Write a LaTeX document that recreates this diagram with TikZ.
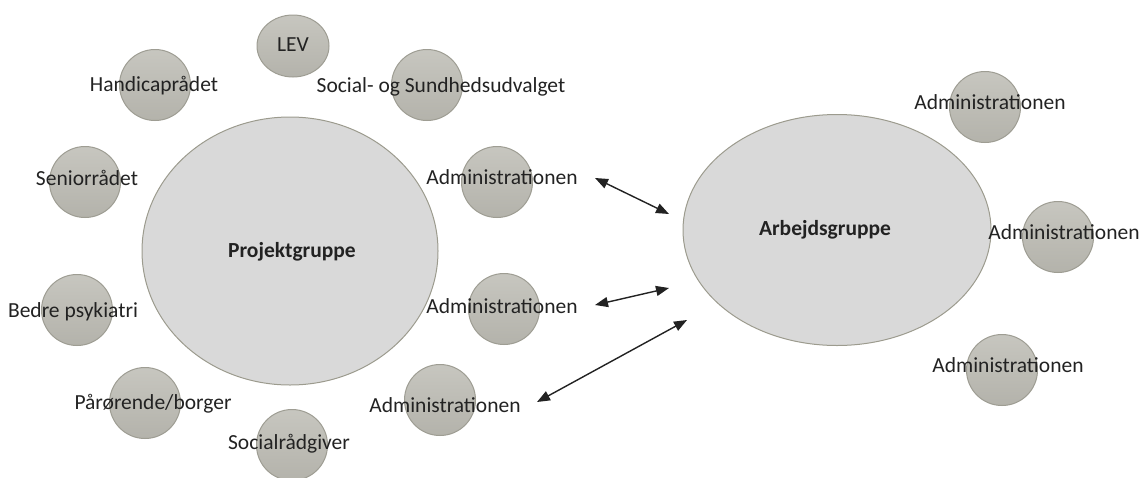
\documentclass[tikz,border=0pt]{standalone}
\usepackage{fontspec}
\setmainfont{Carlito}
\usepackage{xcolor}
\usetikzlibrary{shapes.geometric, arrows.meta}

\definecolor{lillefyld}{HTML}{BDBCB4}
\definecolor{lillekant}{HTML}{9E9D93}
\definecolor{storfyld}{HTML}{D9D9D9}
\definecolor{storkant}{HTML}{9C9B8E}
\definecolor{skrift}{HTML}{222222}

\begin{document}
\begin{tikzpicture}[x=1pt, y=-1pt,
  stor/.style={ellipse, draw=storkant, fill=storfyld, line width=1pt},
  lille/.style={circle, draw=lillekant, line width=1pt, minimum size=71pt,
    top color=lillefyld!85!white, bottom color=lillefyld!95!black},
  tekst/.style={text=skrift, font=\fontsize{21.5}{25}\selectfont, inner sep=0pt, text depth=0pt},
  fed/.style={tekst, font=\fontsize{21.5}{25}\selectfont\bfseries},
  pil/.style={{Triangle[length=13pt,width=10pt]}-{Triangle[length=13pt,width=10pt]}, line width=1.4pt, draw=skrift}]

\useasboundingbox (0,0) rectangle (1140,477);

% De to grupper
\node[stor, minimum width=296pt, minimum height=268pt] (proj) at (290,251) {};
\node[fed] (proj-t) at (292,250) {Projektgruppe};

\node[stor, minimum width=308pt, minimum height=231pt] (arb) at (837,230) {};
\node[fed] (arb-t) at (825,228) {Arbejdsgruppe};

% Omkring projektgruppen
\node[lille, ellipse, minimum width=72pt, minimum height=62pt] (lev) at (293,46) {};
\node[tekst] (lev-t) at (293,45) {LEV};

\node[lille] (handicap) at (155,85) {};
\node[tekst] (handicap-t) at (154,84) {Handicaprådet};

\node[lille] (sundhed) at (427,85) {};
\node[tekst] (sundhed-t) at (441,85) {Social- og Sundhedsudvalget};

\node[lille] (senior) at (85,182) {};
\node[tekst] (senior-t) at (87,178) {Seniorrådet};

\node[lille] (psyk) at (77,310) {};
\node[tekst] (psyk-t) at (73,310) {Bedre psykiatri};

\node[lille] (paar) at (145,403) {};
\node[tekst] (paar-t) at (153,402) {Pårørende/borger};

\node[lille] (socr) at (292,445) {};
\node[tekst] (socr-t) at (289,442) {Socialrådgiver};

\node[lille] (adm1) at (497,182) {};
\node[tekst] (adm1-t) at (502,177) {Administrationen};

\node[lille] (adm2) at (504,309) {};
\node[tekst] (adm2-t) at (502,306) {Administrationen};

\node[lille] (adm3) at (440,400) {};
\node[tekst] (adm3-t) at (445,405) {Administrationen};

% Omkring arbejdsgruppen
\node[lille] (adm4) at (985,107) {};
\node[tekst] (adm4-t) at (990,102) {Administrationen};

\node[lille] (adm5) at (1058,237) {};
\node[tekst] (adm5-t) at (1064,232) {Administrationen};

\node[lille] (adm6) at (1002,370) {};
\node[tekst] (adm6-t) at (1008,365) {Administrationen};

% pile
\coordinate (p1a) at (595,178);
\coordinate (p1b) at (669,214);
\coordinate (p2a) at (595,305);
\coordinate (p2b) at (669,288);
\coordinate (p3a) at (537,402);
\coordinate (p3b) at (687,320);
\draw[pil] (p1a) -- (p1b);
\draw[pil] (p2a) -- (p2b);
\draw[pil] (p3a) -- (p3b);

\end{tikzpicture}
\end{document}
